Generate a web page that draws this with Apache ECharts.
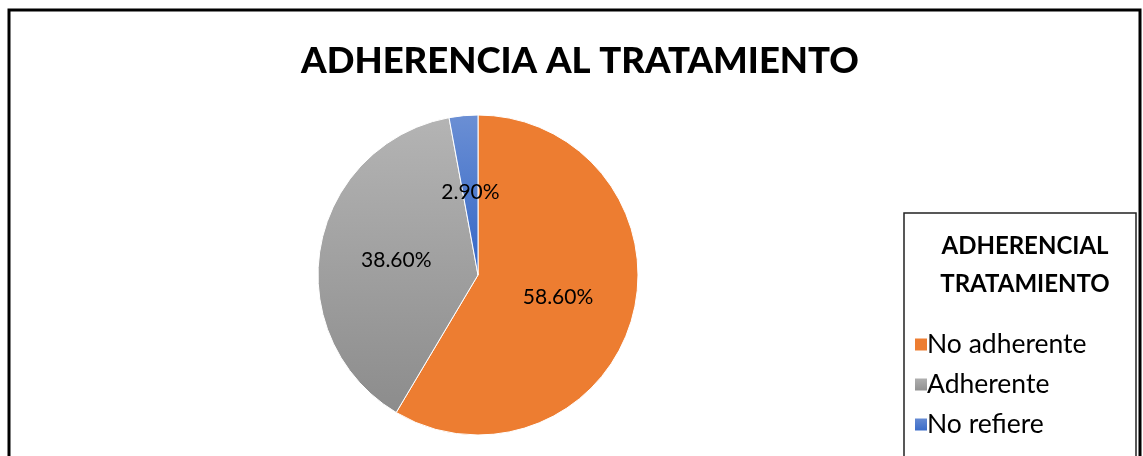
<!DOCTYPE html>
<html>
<head>
<meta charset="utf-8">
<script src="https://cdn.jsdelivr.net/npm/echarts@6/dist/echarts.min.js"></script>
<style>
  html, body { margin: 0; padding: 0; background: #fff; }
  #main { width: 1143px; height: 456px; }
</style>
</head>
<body>
<div id="main"></div>
<script>
// datos
const categorias = ['No adherente', 'Adherente', 'No refiere'];
const valores = [58.6, 38.6, 2.9];
const colores = [
  '#ED7D31',
  { type: 'linear', x: 0, y: 0, x2: 0, y2: 1, colorStops: [{ offset: 0, color: '#B4B4B4' }, { offset: 1, color: '#8C8C8C' }] },
  { type: 'linear', x: 0, y: 0, x2: 0, y2: 1, colorStops: [{ offset: 0, color: '#6B8FD4' }, { offset: 1, color: '#3366C6' }] }
];

const fuente = 'Lato, "Open Sans", sans-serif';

const myChart = echarts.init(document.getElementById('main'));
myChart.setOption({
  animation: false,
  title: [
    {
      text: 'ADHERENCIA AL TRATAMIENTO',
      left: 575, top: 38, textAlign: 'center',
      textStyle: { fontFamily: fuente, fontSize: 36.5, fontWeight: 900, color: '#000' }
    },
    {
      text: 'ADHERENCIAL\nTRATAMIENTO',
      left: 1020, top: 222, textAlign: 'center',
      textStyle: { fontFamily: fuente, fontSize: 24, fontWeight: 'bold', color: '#000', lineHeight: 38 }
    }
  ],
  legend: {
    orient: 'vertical',
    left: 908, top: 326,
    icon: 'rect',
    itemWidth: 14, itemHeight: 14, itemGap: 13,
    textStyle: { fontFamily: fuente, fontSize: 26.5, color: '#000', padding: [0, 0, 0, -6] },
    data: categorias
  },
  graphic: [
    { type: 'rect', shape: { x: 9, y: 10, width: 1131, height: 470 }, style: { fill: 'none', stroke: '#000', lineWidth: 3 } },
    { type: 'rect', shape: { x: 904, y: 213, width: 232, height: 270 }, style: { fill: 'none', stroke: '#222', lineWidth: 1.5 } }
  ],
  series: [{
    type: 'pie',
    center: [478, 275],
    radius: 160,
    startAngle: 90,
    clockwise: true,
    itemStyle: { borderColor: '#fff', borderWidth: 1 },
    label: {
      position: 'inside',
      fontFamily: fuente, fontSize: 21, color: '#000',
      formatter: p => p.value.toFixed(2) + '%'
    },
    labelLine: { show: false },
    data: categorias.map((c, i) => ({ name: c, value: valores[i], itemStyle: { color: colores[i] } }))
  }]
});
</script>
</body>
</html>
